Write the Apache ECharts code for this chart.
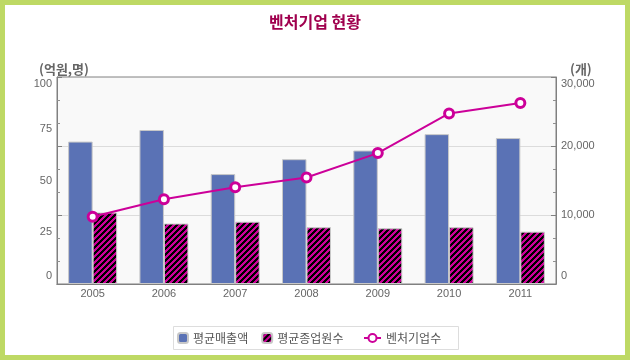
<!DOCTYPE html>
<html><head><meta charset="utf-8">
<script src="https://cdn.jsdelivr.net/npm/echarts@6/dist/echarts.min.js"></script>
<style>
html,body{margin:0;padding:0;background:#bed964;width:630px;height:360px;overflow:hidden}
#c{position:absolute;left:5px;top:5px;width:620px;height:350px;background:#fff}
</style></head><body>
<div id="c"></div>
<script>
const title = '벤처기업 현황';
const categories = ['2005','2006','2007','2008','2009','2010','2011'];
const seriesNames = ['평균매출액','평균종업원수','벤처기업수'];
const avgSales = [68.8, 74.4, 53.1, 60.3, 64.5, 72.4, 70.5];
const avgEmployees = [34.5, 29.2, 30.1, 27.4, 26.9, 27.4, 25.3];
const ventureCount = [9760, 12290, 14030, 15430, 18970, 24720, 26230];
const leftName = '(억원,명)';
const rightName = '(개)';

// hatch pattern
const tile = document.createElement('canvas');
tile.width = 6; tile.height = 6;
const tctx = tile.getContext('2d');
const img = tctx.createImageData(6, 6);
for (let y = 0; y < 6; y++) for (let x = 0; x < 6; x++) {
  const i = (y * 6 + x) * 4;
  const black = ((x + y) % 6) < 3;
  img.data[i] = black ? 0 : 204; img.data[i+1] = 0; img.data[i+2] = black ? 0 : 153; img.data[i+3] = 255;
}
tctx.putImageData(img, 0, 0);
const hatch = { image: tile, repeat: 'repeat' };

const FONT = 'Liberation Sans, Arial, sans-serif';
const KFONT = 'Noto Sans CJK KR, sans-serif';
const lab = { color: '#666', fontSize: 11, fontFamily: FONT };
const richEnds = {
  t: Object.assign({ padding: [14, 0, 0, 0] }, lab),
  b: Object.assign({ padding: [0, 0, 16, 0] }, lab)
};

const chart = echarts.init(document.getElementById('c'), null, { renderer: 'canvas' });
chart.setOption({
  animation: false,
  backgroundColor: '#fff',
  title: { text: title, left: 'center', top: 4, textStyle: { color: '#a0004e', fontSize: 16, fontWeight: 'bold', fontFamily: KFONT } },
  grid: { left: 52, right: 69, top: 72, bottom: 71, show: true, backgroundColor: '#f9f9f9', borderColor: '#808080', borderWidth: 1 },
  legend: [
    { data: [seriesNames[0], seriesNames[1]], left: 172, top: 327, padding: 0, itemWidth: 10, itemHeight: 10, itemGap: 13,
      textStyle: { color: '#555', fontSize: 12, fontFamily: KFONT, padding: [0, 0, 0, 0] }, z: 5 },
    { data: [seriesNames[2]], left: 358, top: 327, padding: 0, itemWidth: 17, itemHeight: 10,
      textStyle: { color: '#555', fontSize: 12, fontFamily: KFONT }, z: 5 }
  ],
  graphic: [{ type: 'rect', left: 168, top: 321, shape: { width: 285, height: 23 }, style: { fill: '#fff', stroke: '#dddddd', lineWidth: 1 }, z: 1 }],
  xAxis: [
    { type: 'category', data: categories, position: 'bottom', axisLine: { lineStyle: { color: '#808080' } }, axisTick: { show: false },
      axisLabel: Object.assign({ margin: 4 }, lab), splitLine: { show: false } },
    { type: 'category', data: categories, position: 'top', axisLine: { lineStyle: { color: '#808080' } }, axisTick: { show: false },
      axisLabel: { show: false }, splitLine: { show: false } }
  ],
  yAxis: [
    { type: 'value', position: 'left', min: 0, max: 100, interval: 25,
      name: leftName, nameLocation: 'end', nameGap: 8,
      nameTextStyle: { color: '#666', fontSize: 13, fontWeight: 'bold', fontFamily: KFONT, verticalAlign: 'middle', align: 'center', padding: [0, 0, 0, 14] },
      axisLine: { show: true, lineStyle: { color: '#808080' } }, axisTick: { show: false }, splitLine: { show: false },
      axisLabel: Object.assign({ margin: 5, rich: richEnds,
        formatter: v => v === 100 ? '{t|' + v + '}' : (v === 0 ? '{b|' + v + '}' : String(v)) }, lab) },
    { type: 'value', position: 'right', min: 0, max: 30000, interval: 10000,
      name: rightName, nameLocation: 'end', nameGap: 8,
      nameTextStyle: { color: '#666', fontSize: 13, fontWeight: 'bold', fontFamily: KFONT, verticalAlign: 'middle', align: 'left', padding: [0, 0, 0, 14] },
      axisLine: { show: true, lineStyle: { color: '#808080' } },
      axisTick: { show: true, inside: true, length: 5, lineStyle: { color: '#808080' } },
      minorTick: { show: true, splitNumber: 3, length: 3, lineStyle: { color: '#909090' } },
      splitLine: { show: true, showMinLine: false, showMaxLine: false, lineStyle: { color: '#dcdcdc' } },
      axisLabel: Object.assign({ margin: 5, rich: richEnds,
        formatter: v => { const s = v.toLocaleString('en-US'); return v === 30000 ? '{t|' + s + '}' : (v === 0 ? '{b|' + s + '}' : s); } }, lab) },
    { type: 'value', position: 'left', min: 0, max: 9, interval: 3,
      axisLine: { show: false }, axisLabel: { show: false }, splitLine: { show: false },
      axisTick: { show: true, inside: true, length: 5, lineStyle: { color: '#808080' } },
      minorTick: { show: true, splitNumber: 3, length: 3, lineStyle: { color: '#909090' } } }
  ],
  series: [
    { name: seriesNames[0], type: 'bar', data: avgSales, yAxisIndex: 0, barWidth: 24.5, barGap: '0%',
      itemStyle: { color: '#5a72b5', borderColor: '#c8c8c8', borderWidth: 1 }, z: 2 },
    { name: seriesNames[1], type: 'bar', data: avgEmployees, yAxisIndex: 0, barWidth: 24.5, barGap: '0%',
      itemStyle: { color: hatch, borderColor: '#c8c8c8', borderWidth: 1 }, z: 2 },
    { name: seriesNames[2], type: 'line', data: ventureCount, yAxisIndex: 1, symbol: 'circle', symbolSize: 9,
      lineStyle: { color: '#cc0099', width: 2 },
      itemStyle: { color: '#ffffff', borderColor: '#cc0099', borderWidth: 3 }, z: 3 }
  ]
});
</script>
</body></html>
